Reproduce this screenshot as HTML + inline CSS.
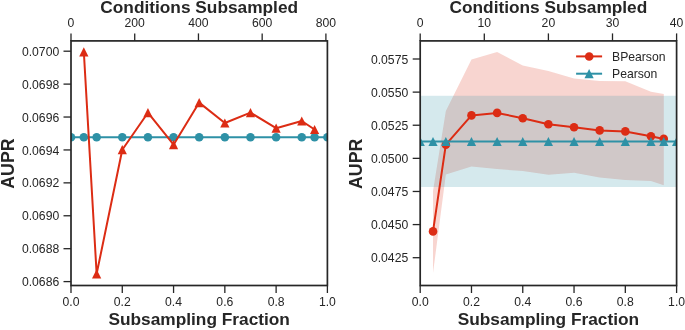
<!DOCTYPE html><html><head><meta charset="utf-8"><style>html,body{margin:0;padding:0;background:#fff;}svg{display:block;will-change:transform;}text{font-family:"Liberation Sans",sans-serif;fill:#262626;}</style></head><body>
<svg width="685" height="330" viewBox="0 0 685 330">
<defs><clipPath id="cl"><rect x="71.0" y="40.9" width="256.4" height="244.6"/></clipPath><clipPath id="cr"><rect x="420.2" y="40.9" width="256.40000000000003" height="244.6"/></clipPath></defs>
<g clip-path="url(#cl)">
<polyline points="71.00,137.2 83.82,137.2 96.64,137.2 122.28,137.2 147.92,137.2 173.56,137.2 199.20,137.2 224.84,137.2 250.48,137.2 276.12,137.2 301.76,137.2 314.58,137.2 327.40,137.2" fill="none" stroke="#2e91a6" stroke-width="2"/>
<circle cx="71.00" cy="137.20" r="4.3" fill="#2e91a6"/>
<circle cx="83.82" cy="137.20" r="4.3" fill="#2e91a6"/>
<circle cx="96.64" cy="137.20" r="4.3" fill="#2e91a6"/>
<circle cx="122.28" cy="137.20" r="4.3" fill="#2e91a6"/>
<circle cx="147.92" cy="137.20" r="4.3" fill="#2e91a6"/>
<circle cx="173.56" cy="137.20" r="4.3" fill="#2e91a6"/>
<circle cx="199.20" cy="137.20" r="4.3" fill="#2e91a6"/>
<circle cx="224.84" cy="137.20" r="4.3" fill="#2e91a6"/>
<circle cx="250.48" cy="137.20" r="4.3" fill="#2e91a6"/>
<circle cx="276.12" cy="137.20" r="4.3" fill="#2e91a6"/>
<circle cx="301.76" cy="137.20" r="4.3" fill="#2e91a6"/>
<circle cx="314.58" cy="137.20" r="4.3" fill="#2e91a6"/>
<circle cx="327.40" cy="137.20" r="4.3" fill="#2e91a6"/>
<polyline points="83.82,51.8 96.64,273.9 122.28,149.7 147.92,112.7 173.56,144.7 199.20,102.6 224.84,123.0 250.48,112.6 276.12,128.2 301.76,121.0 314.58,129.5" fill="none" stroke="#dc2c14" stroke-width="2" stroke-linejoin="round"/>
<path d="M83.82,47.20 L88.42,56.40 L79.22,56.40 Z" fill="#dc2c14"/>
<path d="M96.64,269.30 L101.24,278.50 L92.04,278.50 Z" fill="#dc2c14"/>
<path d="M122.28,145.10 L126.88,154.30 L117.68,154.30 Z" fill="#dc2c14"/>
<path d="M147.92,108.10 L152.52,117.30 L143.32,117.30 Z" fill="#dc2c14"/>
<path d="M173.56,140.10 L178.16,149.30 L168.96,149.30 Z" fill="#dc2c14"/>
<path d="M199.20,98.00 L203.80,107.20 L194.60,107.20 Z" fill="#dc2c14"/>
<path d="M224.84,118.40 L229.44,127.60 L220.24,127.60 Z" fill="#dc2c14"/>
<path d="M250.48,108.00 L255.08,117.20 L245.88,117.20 Z" fill="#dc2c14"/>
<path d="M276.12,123.60 L280.72,132.80 L271.52,132.80 Z" fill="#dc2c14"/>
<path d="M301.76,116.40 L306.36,125.60 L297.16,125.60 Z" fill="#dc2c14"/>
<path d="M314.58,124.90 L319.18,134.10 L309.98,134.10 Z" fill="#dc2c14"/>
</g>
<g clip-path="url(#cr)">
<polygon points="433.02,191.0 445.84,110.9 471.48,59.4 497.12,52.1 522.76,65.5 548.40,70.9 574.04,78.5 599.68,81.0 625.32,81.2 650.96,91.8 663.78,94.0 663.78,185.3 650.96,181.0 625.32,179.9 599.68,177.5 574.04,172.8 548.40,174.8 522.76,171.1 497.12,169.0 471.48,166.4 445.84,174.6 433.02,273.0" fill="#dc2c14" fill-opacity="0.2"/>
<rect x="420.2" y="95.8" width="256.40000000000003" height="91.2" fill="#2e91a6" fill-opacity="0.2"/>
<polyline points="433.02,231.4 445.84,144.7 471.48,115.4 497.12,112.9 522.76,118.2 548.40,124.2 574.04,127.3 599.68,130.4 625.32,131.4 650.96,136.2 663.78,138.9" fill="none" stroke="#dc2c14" stroke-width="2" stroke-linejoin="round"/>
<circle cx="433.02" cy="231.40" r="4.3" fill="#dc2c14"/>
<circle cx="445.84" cy="144.70" r="4.3" fill="#dc2c14"/>
<circle cx="471.48" cy="115.40" r="4.3" fill="#dc2c14"/>
<circle cx="497.12" cy="112.90" r="4.3" fill="#dc2c14"/>
<circle cx="522.76" cy="118.20" r="4.3" fill="#dc2c14"/>
<circle cx="548.40" cy="124.20" r="4.3" fill="#dc2c14"/>
<circle cx="574.04" cy="127.30" r="4.3" fill="#dc2c14"/>
<circle cx="599.68" cy="130.40" r="4.3" fill="#dc2c14"/>
<circle cx="625.32" cy="131.40" r="4.3" fill="#dc2c14"/>
<circle cx="650.96" cy="136.20" r="4.3" fill="#dc2c14"/>
<circle cx="663.78" cy="138.90" r="4.3" fill="#dc2c14"/>
<polyline points="420.20,141.5 433.02,141.5 445.84,141.5 471.48,141.5 497.12,141.5 522.76,141.5 548.40,141.5 574.04,141.5 599.68,141.5 625.32,141.5 650.96,141.5 663.78,141.5 676.60,141.5" fill="none" stroke="#2e91a6" stroke-width="2"/>
<path d="M420.20,136.90 L424.80,146.10 L415.60,146.10 Z" fill="#2e91a6"/>
<path d="M433.02,136.90 L437.62,146.10 L428.42,146.10 Z" fill="#2e91a6"/>
<path d="M445.84,136.90 L450.44,146.10 L441.24,146.10 Z" fill="#2e91a6"/>
<path d="M471.48,136.90 L476.08,146.10 L466.88,146.10 Z" fill="#2e91a6"/>
<path d="M497.12,136.90 L501.72,146.10 L492.52,146.10 Z" fill="#2e91a6"/>
<path d="M522.76,136.90 L527.36,146.10 L518.16,146.10 Z" fill="#2e91a6"/>
<path d="M548.40,136.90 L553.00,146.10 L543.80,146.10 Z" fill="#2e91a6"/>
<path d="M574.04,136.90 L578.64,146.10 L569.44,146.10 Z" fill="#2e91a6"/>
<path d="M599.68,136.90 L604.28,146.10 L595.08,146.10 Z" fill="#2e91a6"/>
<path d="M625.32,136.90 L629.92,146.10 L620.72,146.10 Z" fill="#2e91a6"/>
<path d="M650.96,136.90 L655.56,146.10 L646.36,146.10 Z" fill="#2e91a6"/>
<path d="M663.78,136.90 L668.38,146.10 L659.18,146.10 Z" fill="#2e91a6"/>
<path d="M676.60,136.90 L681.20,146.10 L672.00,146.10 Z" fill="#2e91a6"/>
</g>
<line x1="576.1" y1="56.4" x2="602.1" y2="56.4" stroke="#dc2c14" stroke-width="2"/>
<circle cx="589.20" cy="56.50" r="4.3" fill="#dc2c14"/>
<text x="612" y="61.1" font-size="12.2">BPearson</text>
<line x1="576.1" y1="73.7" x2="602.1" y2="73.7" stroke="#2e91a6" stroke-width="2"/>
<path d="M589.10,69.10 L593.70,78.30 L584.50,78.30 Z" fill="#2e91a6"/>
<text x="612" y="78.3" font-size="12.2">Pearson</text>
<rect x="71.0" y="40.9" width="256.40" height="244.60" fill="none" stroke="#262626" stroke-width="1.7"/>
<rect x="420.2" y="40.9" width="256.40" height="244.60" fill="none" stroke="#262626" stroke-width="1.7"/>
<line x1="71.00" y1="285.5" x2="71.00" y2="293.0" stroke="#262626" stroke-width="1.3"/>
<text x="71.00" y="306.3" font-size="12.2" text-anchor="middle">0.0</text>
<line x1="122.28" y1="285.5" x2="122.28" y2="293.0" stroke="#262626" stroke-width="1.3"/>
<text x="122.28" y="306.3" font-size="12.2" text-anchor="middle">0.2</text>
<line x1="173.56" y1="285.5" x2="173.56" y2="293.0" stroke="#262626" stroke-width="1.3"/>
<text x="173.56" y="306.3" font-size="12.2" text-anchor="middle">0.4</text>
<line x1="224.84" y1="285.5" x2="224.84" y2="293.0" stroke="#262626" stroke-width="1.3"/>
<text x="224.84" y="306.3" font-size="12.2" text-anchor="middle">0.6</text>
<line x1="276.12" y1="285.5" x2="276.12" y2="293.0" stroke="#262626" stroke-width="1.3"/>
<text x="276.12" y="306.3" font-size="12.2" text-anchor="middle">0.8</text>
<line x1="327.40" y1="285.5" x2="327.40" y2="293.0" stroke="#262626" stroke-width="1.3"/>
<text x="327.40" y="306.3" font-size="12.2" text-anchor="middle">1.0</text>
<line x1="71.00" y1="40.9" x2="71.00" y2="33.4" stroke="#262626" stroke-width="1.3"/>
<text x="71.00" y="26.7" font-size="12.2" text-anchor="middle">0</text>
<line x1="134.72" y1="40.9" x2="134.72" y2="33.4" stroke="#262626" stroke-width="1.3"/>
<text x="134.72" y="26.7" font-size="12.2" text-anchor="middle">200</text>
<line x1="198.45" y1="40.9" x2="198.45" y2="33.4" stroke="#262626" stroke-width="1.3"/>
<text x="198.45" y="26.7" font-size="12.2" text-anchor="middle">400</text>
<line x1="262.17" y1="40.9" x2="262.17" y2="33.4" stroke="#262626" stroke-width="1.3"/>
<text x="262.17" y="26.7" font-size="12.2" text-anchor="middle">600</text>
<line x1="325.90" y1="40.9" x2="325.90" y2="33.4" stroke="#262626" stroke-width="1.3"/>
<text x="325.90" y="26.7" font-size="12.2" text-anchor="middle">800</text>
<line x1="420.20" y1="285.5" x2="420.20" y2="293.0" stroke="#262626" stroke-width="1.3"/>
<text x="420.20" y="306.3" font-size="12.2" text-anchor="middle">0.0</text>
<line x1="471.48" y1="285.5" x2="471.48" y2="293.0" stroke="#262626" stroke-width="1.3"/>
<text x="471.48" y="306.3" font-size="12.2" text-anchor="middle">0.2</text>
<line x1="522.76" y1="285.5" x2="522.76" y2="293.0" stroke="#262626" stroke-width="1.3"/>
<text x="522.76" y="306.3" font-size="12.2" text-anchor="middle">0.4</text>
<line x1="574.04" y1="285.5" x2="574.04" y2="293.0" stroke="#262626" stroke-width="1.3"/>
<text x="574.04" y="306.3" font-size="12.2" text-anchor="middle">0.6</text>
<line x1="625.32" y1="285.5" x2="625.32" y2="293.0" stroke="#262626" stroke-width="1.3"/>
<text x="625.32" y="306.3" font-size="12.2" text-anchor="middle">0.8</text>
<line x1="676.60" y1="285.5" x2="676.60" y2="293.0" stroke="#262626" stroke-width="1.3"/>
<text x="676.60" y="306.3" font-size="12.2" text-anchor="middle">1.0</text>
<line x1="420.20" y1="40.9" x2="420.20" y2="33.4" stroke="#262626" stroke-width="1.3"/>
<text x="420.20" y="26.7" font-size="12.2" text-anchor="middle">0</text>
<line x1="484.30" y1="40.9" x2="484.30" y2="33.4" stroke="#262626" stroke-width="1.3"/>
<text x="484.30" y="26.7" font-size="12.2" text-anchor="middle">10</text>
<line x1="548.40" y1="40.9" x2="548.40" y2="33.4" stroke="#262626" stroke-width="1.3"/>
<text x="548.40" y="26.7" font-size="12.2" text-anchor="middle">20</text>
<line x1="612.50" y1="40.9" x2="612.50" y2="33.4" stroke="#262626" stroke-width="1.3"/>
<text x="612.50" y="26.7" font-size="12.2" text-anchor="middle">30</text>
<line x1="676.60" y1="40.9" x2="676.60" y2="33.4" stroke="#262626" stroke-width="1.3"/>
<text x="676.60" y="26.7" font-size="12.2" text-anchor="middle">40</text>
<line x1="71.0" y1="51.20" x2="63.5" y2="51.20" stroke="#262626" stroke-width="1.3"/>
<text x="59.2" y="55.80" font-size="12.2" text-anchor="end">0.0700</text>
<line x1="71.0" y1="84.11" x2="63.5" y2="84.11" stroke="#262626" stroke-width="1.3"/>
<text x="59.2" y="88.71" font-size="12.2" text-anchor="end">0.0698</text>
<line x1="71.0" y1="117.03" x2="63.5" y2="117.03" stroke="#262626" stroke-width="1.3"/>
<text x="59.2" y="121.63" font-size="12.2" text-anchor="end">0.0696</text>
<line x1="71.0" y1="149.94" x2="63.5" y2="149.94" stroke="#262626" stroke-width="1.3"/>
<text x="59.2" y="154.54" font-size="12.2" text-anchor="end">0.0694</text>
<line x1="71.0" y1="182.86" x2="63.5" y2="182.86" stroke="#262626" stroke-width="1.3"/>
<text x="59.2" y="187.46" font-size="12.2" text-anchor="end">0.0692</text>
<line x1="71.0" y1="215.77" x2="63.5" y2="215.77" stroke="#262626" stroke-width="1.3"/>
<text x="59.2" y="220.37" font-size="12.2" text-anchor="end">0.0690</text>
<line x1="71.0" y1="248.69" x2="63.5" y2="248.69" stroke="#262626" stroke-width="1.3"/>
<text x="59.2" y="253.29" font-size="12.2" text-anchor="end">0.0688</text>
<line x1="71.0" y1="281.60" x2="63.5" y2="281.60" stroke="#262626" stroke-width="1.3"/>
<text x="59.2" y="286.20" font-size="12.2" text-anchor="end">0.0686</text>
<line x1="420.2" y1="59.00" x2="412.7" y2="59.00" stroke="#262626" stroke-width="1.3"/>
<text x="408.2" y="63.60" font-size="12.2" text-anchor="end">0.0575</text>
<line x1="420.2" y1="92.12" x2="412.7" y2="92.12" stroke="#262626" stroke-width="1.3"/>
<text x="408.2" y="96.72" font-size="12.2" text-anchor="end">0.0550</text>
<line x1="420.2" y1="125.23" x2="412.7" y2="125.23" stroke="#262626" stroke-width="1.3"/>
<text x="408.2" y="129.83" font-size="12.2" text-anchor="end">0.0525</text>
<line x1="420.2" y1="158.35" x2="412.7" y2="158.35" stroke="#262626" stroke-width="1.3"/>
<text x="408.2" y="162.95" font-size="12.2" text-anchor="end">0.0500</text>
<line x1="420.2" y1="191.47" x2="412.7" y2="191.47" stroke="#262626" stroke-width="1.3"/>
<text x="408.2" y="196.07" font-size="12.2" text-anchor="end">0.0475</text>
<line x1="420.2" y1="224.58" x2="412.7" y2="224.58" stroke="#262626" stroke-width="1.3"/>
<text x="408.2" y="229.18" font-size="12.2" text-anchor="end">0.0450</text>
<line x1="420.2" y1="257.70" x2="412.7" y2="257.70" stroke="#262626" stroke-width="1.3"/>
<text x="408.2" y="262.30" font-size="12.2" text-anchor="end">0.0425</text>
<text x="199.20" y="12.6" font-size="17.3" font-weight="bold" text-anchor="middle">Conditions Subsampled</text>
<text x="548.40" y="12.6" font-size="17.3" font-weight="bold" text-anchor="middle">Conditions Subsampled</text>
<text x="199.20" y="325.3" font-size="17.3" font-weight="bold" text-anchor="middle">Subsampling Fraction</text>
<text x="548.40" y="325.3" font-size="17.3" font-weight="bold" text-anchor="middle">Subsampling Fraction</text>
<text transform="translate(13.6,163.6) rotate(-90)" font-size="17.8" font-weight="bold" text-anchor="middle">AUPR</text>
<text transform="translate(362.4,163.8) rotate(-90)" font-size="17.8" font-weight="bold" text-anchor="middle">AUPR</text>
</svg></body></html>
